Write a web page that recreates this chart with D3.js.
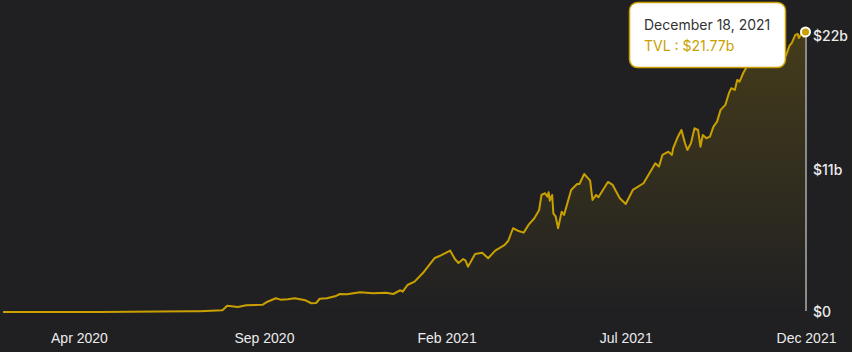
<!DOCTYPE html>
<html>
<head>
<meta charset="utf-8">
<script src="https://cdn.jsdelivr.net/npm/d3@7"></script>
<style>
    html, body { margin: 0; padding: 0; background: #202022; }
    svg { display: block; font-family: Inter, "Noto Sans", sans-serif; }
</style>
</head>
<body>
<div id="chart"></div>
<script>
// TVL in billions of USD
const dates = [
    '2020-02-10', '2020-05-02', '2020-07-17', '2020-07-25', '2020-08-13', '2020-08-17', '2020-08-26',
    '2020-09-02', '2020-09-16', '2020-09-20', '2020-09-27', '2020-10-01', '2020-10-07', '2020-10-13',
    '2020-10-22', '2020-10-27', '2020-10-31', '2020-11-03', '2020-11-09', '2020-11-16', '2020-11-20',
    '2020-11-26', '2020-12-07', '2020-12-18', '2020-12-29', '2021-01-04', '2021-01-10', '2021-01-12',
    '2021-01-16', '2021-01-22', '2021-01-29', '2021-02-08', '2021-02-12', '2021-02-21', '2021-02-25',
    '2021-02-28', '2021-03-04', '2021-03-06', '2021-03-08', '2021-03-14', '2021-03-20', '2021-03-25',
    '2021-03-31', '2021-04-08', '2021-04-11', '2021-04-15', '2021-04-19', '2021-04-24', '2021-04-28',
    '2021-05-03', '2021-05-07', '2021-05-09', '2021-05-12', '2021-05-14', '2021-05-15', '2021-05-16',
    '2021-05-18', '2021-05-19', '2021-05-21', '2021-05-23', '2021-05-26', '2021-05-28', '2021-05-30',
    '2021-06-03', '2021-06-08', '2021-06-10', '2021-06-14', '2021-06-19', '2021-06-21', '2021-06-24',
    '2021-06-26', '2021-07-04', '2021-07-08', '2021-07-14', '2021-07-19', '2021-07-25', '2021-08-03',
    '2021-08-08', '2021-08-13', '2021-08-16', '2021-08-19', '2021-08-24', '2021-08-27', '2021-08-28',
    '2021-09-01', '2021-09-04', '2021-09-07', '2021-09-09', '2021-09-12', '2021-09-15', '2021-09-18',
    '2021-09-20', '2021-09-22', '2021-09-25', '2021-09-28', '2021-10-01', '2021-10-04', '2021-10-07',
    '2021-10-11', '2021-10-14', '2021-10-16', '2021-10-19', '2021-10-21', '2021-10-23', '2021-10-26',
    '2021-10-29', '2021-11-09', '2021-11-22', '2021-12-01', '2021-12-04', '2021-12-06', '2021-12-09',
    '2021-12-11', '2021-12-12', '2021-12-14', '2021-12-16', '2021-12-18'
];
const tvl = [
    0.00, 0.00, 0.05, 0.05, 0.13, 0.49, 0.39,
    0.52, 0.57, 0.80, 1.07, 0.96, 0.99, 1.07,
    0.91, 0.68, 0.70, 1.03, 1.07, 1.22, 1.40,
    1.38, 1.53, 1.45, 1.50, 1.40, 1.69, 1.58,
    2.10, 2.36, 3.03, 4.20, 4.35, 4.77, 4.12,
    3.81, 4.12, 3.99, 3.52, 4.51, 4.61, 4.18,
    4.77, 5.21, 5.54, 6.51, 6.32, 6.17, 6.77,
    7.29, 7.93, 9.10, 9.23, 8.97, 9.31, 8.65,
    9.10, 7.67, 7.41, 6.51, 7.80, 7.54, 8.19,
    9.49, 9.95, 9.95, 10.73, 10.21, 8.71, 9.10,
    8.92, 10.11, 9.88, 8.84, 8.40, 9.49, 10.01,
    10.79, 11.56, 11.30, 12.21, 12.46, 12.21, 12.73,
    13.63, 14.15, 13.12, 12.60, 13.12, 14.28, 14.15,
    12.85, 13.76, 13.51, 13.63, 14.41, 14.80, 15.71,
    16.10, 17.01, 17.40, 17.26, 18.04, 17.91, 18.56,
    19.07, 19.60, 20.00, 19.90, 20.68, 20.92, 21.54,
    21.62, 21.31, 21.62, 21.38, 21.77
];
const xTickDates = ['2020-04-14', '2020-09-17', '2021-02-18', '2021-07-19', '2021-12-18'];
const yTicks = [0, 11, 22];
const yTickLabels = ['$0', '$11b', '$22b'];

const W = 852;
const H = 352;
const gold = '#c9a000';

const parse = d3.timeParse('%Y-%m-%d');
const data = dates.map((d, i) => ({ date: parse(d), value: tvl[i] }));
const last = data[data.length - 1];

const x = d3.scaleTime()
    .domain(d3.extent(data, d => d.date))
    .range([3, 806]);

const y = d3.scaleLinear()
    .domain([0, 22])
    .range([312, 29]);

const svg = d3.select('#chart')
    .append('svg')
    .attr('width', W)
    .attr('height', H);

svg.append('rect')
    .attr('width', W)
    .attr('height', H)
    .attr('fill', '#202022');

const grad = svg.append('defs')
    .append('linearGradient')
    .attr('id', 'fade')
    .attr('x1', 0).attr('y1', 0)
    .attr('x2', 0).attr('y2', 1);
grad.append('stop').attr('offset', '0%').attr('stop-color', gold).attr('stop-opacity', 0.22);
grad.append('stop').attr('offset', '100%').attr('stop-color', gold).attr('stop-opacity', 0);

const area = d3.area()
    .x(d => x(d.date))
    .y0(y(0))
    .y1(d => y(d.value));

const line = d3.line()
    .x(d => x(d.date))
    .y(d => y(d.value));

svg.append('path')
    .datum(data)
    .attr('d', area)
    .attr('fill', 'url(#fade)');

svg.append('path')
    .datum(data)
    .attr('d', line)
    .attr('fill', 'none')
    .attr('stroke', gold)
    .attr('stroke-width', 2)
    .attr('stroke-linejoin', 'round');

// bottom axis
const xAxis = svg.append('g')
    .attr('transform', `translate(0, 338)`)
    .call(d3.axisBottom(x)
        .tickValues(xTickDates.map(parse))
        .tickFormat(d3.timeFormat('%b %Y'))
        .tickSize(0));
xAxis.select('.domain').remove();
xAxis.selectAll('text')
    .attr('y', 0)
    .attr('dy', '0.35em')
    .attr('fill', '#ececec')
    .style('font-size', '14px')
    .style('font-weight', 500);

// right axis
svg.append('g')
    .selectAll('text')
    .data(yTicks)
    .enter()
    .append('text')
    .attr('x', 813)
    .attr('y', d => Math.max(y(d), 36))
    .attr('dy', '0.35em')
    .attr('fill', '#ececec')
    .style('font-size', '14px')
    .style('font-weight', 500)
    .text((d, i) => yTickLabels[i]);

// hover marker
svg.append('line')
    .attr('x1', x(last.date)).attr('x2', x(last.date))
    .attr('y1', y(last.value)).attr('y2', y(0) - 1)
    .attr('stroke', '#8a8a8a')
    .attr('stroke-width', 2);

svg.append('circle')
    .attr('cx', x(last.date) - 0.5)
    .attr('cy', y(last.value))
    .attr('r', 4.5)
    .attr('fill', gold)
    .attr('stroke', '#fff')
    .attr('stroke-width', 2);

// tooltip
const tip = svg.append('g').attr('transform', 'translate(629.5, 2.5)');
tip.append('rect')
    .attr('width', 156)
    .attr('height', 65)
    .attr('rx', 8)
    .attr('fill', '#fff')
    .attr('stroke', gold)
    .attr('stroke-width', 1.5);
tip.append('text')
    .attr('x', 14.5)
    .attr('y', 27.5)
    .attr('fill', '#333')
    .style('font-size', '14px')
    .text(d3.timeFormat('%B %-d, %Y')(last.date));
tip.append('text')
    .attr('x', 14.5)
    .attr('y', 48.5)
    .attr('fill', gold)
    .style('font-size', '14px')
    .text(`TVL : $${last.value.toFixed(2)}b`);
</script>
</body>
</html>
